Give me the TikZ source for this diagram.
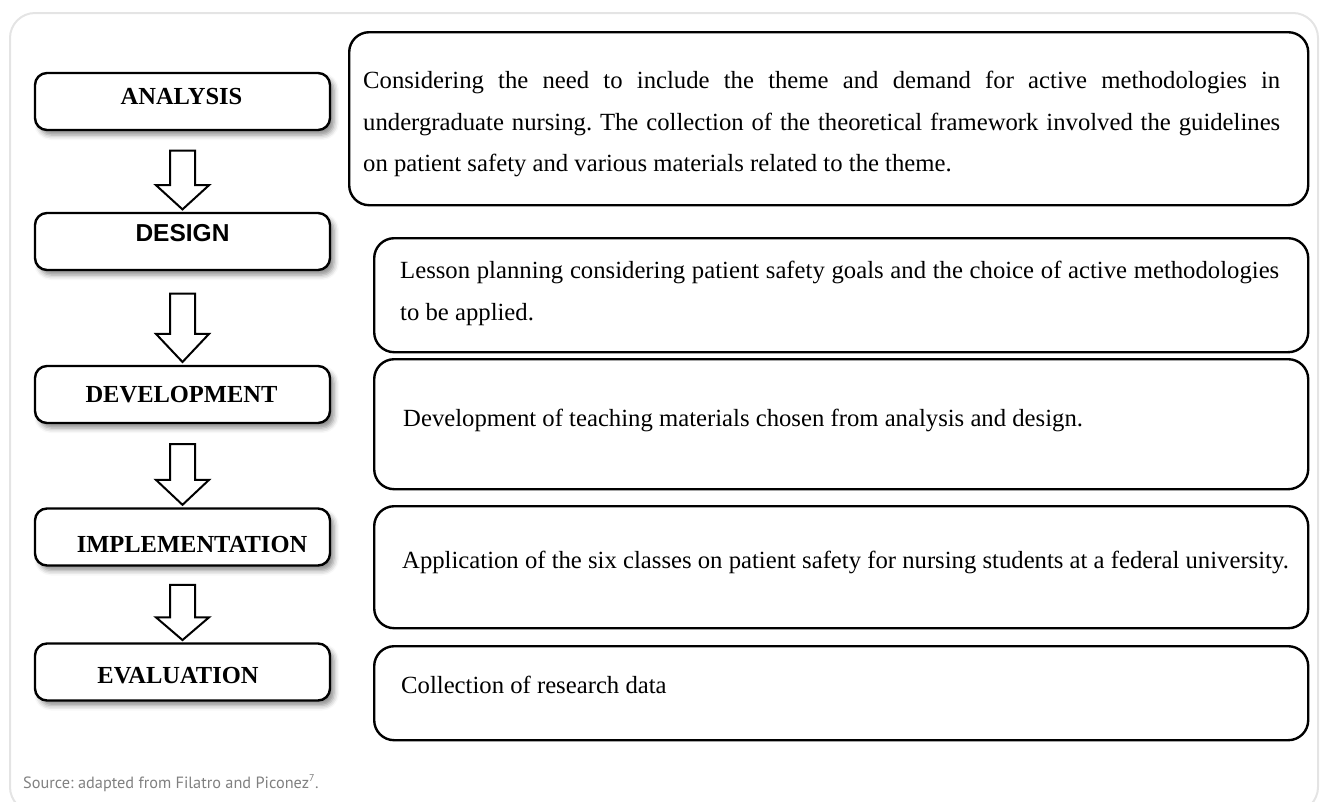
\documentclass[tikz,border=0pt]{standalone}
\usepackage{fontspec}
\setmainfont{Liberation Serif}
\setsansfont{Liberation Sans}
\newfontfamily\srcfont{PT Sans}
\usetikzlibrary{calc,shadows.blur}
\definecolor{framegray}{HTML}{E4E4E4}
\definecolor{srcgray}{HTML}{808080}
\frenchspacing
\tikzset{
    stagebox/.style={draw, line width=2.4pt, rounded corners=12pt, fill=white,
        minimum width=295pt, minimum height=57pt,
        blur shadow={shadow xshift=4pt, shadow yshift=-5pt, shadow blur radius=5pt, shadow opacity=45}},
    stagetext/.style={inner sep=0pt, font=\fontsize{24.5}{28}\selectfont\bfseries},
    notebox/.style={draw, line width=2.4pt, rounded corners=20pt, anchor=north west, inner sep=0pt},
    notetext/.style={inner sep=0pt, font=\fontsize{24.7}{42}\selectfont},
    blockarrow/.style={draw, line width=2pt, fill=white, line join=miter},
}

\begin{document}
\begin{tikzpicture}[x=1pt,y=-1pt]
    \useasboundingbox (0,0) rectangle (1321,801);
    \clip (0,0) rectangle (1321,801);
    \draw[framegray, line width=2pt, rounded corners=25pt] (10,13) rectangle (1318,812);

    % stages on the left
    \foreach \n/\y/\dx/\dy/\t in {ana/101.5/-1/-4.5/ANALYSIS, des/241.5/0/-8/{\sffamily DESIGN},
        dev/394.5/-1/0/DEVELOPMENT, imp/537/9.5/7/IMPLEMENTATION, eva/672/-4.5/4/EVALUATION}{
        \node[stagebox] (\n) at (182.5,\y) {};
        \node[stagetext] (\n-t) at ($(\n)+(\dx,\dy)$) {\t};
    }
    \foreach \a/\b in {ana/des, des/dev, dev/imp, imp/eva}{
        \coordinate (s) at ($(\a.south)!.24!(\b.north)$);
        \coordinate (h) at ($(\a.south)!.67!(\b.north)$);
        \coordinate (t) at ($(\a.south)!.97!(\b.north)$);
        \draw[blockarrow] ($(s)+(-12.5,0)$) -- ($(h)+(-12.5,0)$) -- ($(h)+(-26.5,0)$) -- (t)
            -- ($(h)+(26.5,0)$) -- ($(h)+(12.5,0)$) -- ($(s)+(12.5,0)$) -- cycle;
    }

    % notes on the right
    \foreach \n/\x/\y/\h in {n1/348/31/173, n2/373/237/114, n3/373/358/130, n4/373/505/122, n5/373/645/94}{
        \pgfmathsetmacro{\w}{1307-\x}
        \node[notebox, minimum width=\w pt, minimum height=\h pt] (\n) at (\x,\y) {};
    }
    \node[notetext, font=\fontsize{24.7}{41.5}\selectfont, text width=917pt, align=justify, anchor=north west] (n1-t) at (363,71)
        {Considering the need to include the theme and demand for active methodologies in\linebreak
        undergraduate nursing. The collection of the theoretical framework involved the guidelines\linebreak
        on patient safety and various materials related to the theme.};
    \node[notetext, text width=879pt, align=justify, anchor=north west] (n2-t) at (400,261)
        {Lesson planning considering patient safety goals and the choice of active methodologies\linebreak
        to be applied.};
    \node[notetext, anchor=base west] (n3-t) at (403,426) {Development of teaching materials chosen from analysis and design.};
    \node[notetext, anchor=base west] (n4-t) at (402,568) {Application of the six classes on patient safety for nursing students at a federal university.};
    \node[notetext, anchor=base west] (n5-t) at (401,693) {Collection of research data};

    \node[anchor=base west, inner sep=0pt, text=srcgray, font=\srcfont\fontsize{16.3}{20}\selectfont] (src) at (23,788)
        {Source: adapted from Filatro and Piconez\textsuperscript{\fontsize{10}{10}\selectfont 7}.};
\end{tikzpicture}
\end{document}
